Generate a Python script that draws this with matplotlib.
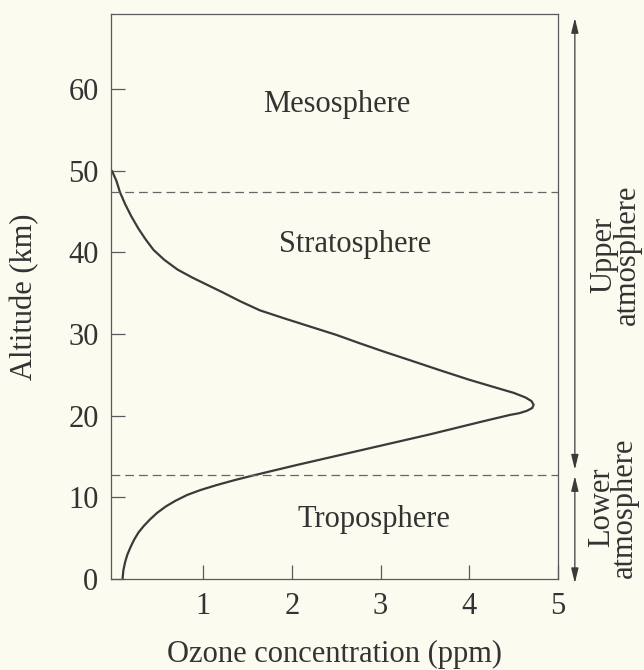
import matplotlib
matplotlib.use("Agg")
import matplotlib.pyplot as plt
from matplotlib.patches import ArrowStyle

# ---- data ----
ozone_ppm = [-0.03, 0.02, 0.06, 0.12, 0.19, 0.27, 0.35, 0.44, 0.56, 0.71, 0.88,
             1.05, 1.22, 1.42, 1.64, 1.92, 2.21, 2.50, 2.77, 3.05, 3.33, 3.66,
             4.00, 4.28, 4.50, 4.63, 4.70, 4.725, 4.71, 4.65, 4.56, 4.46, 4.15,
             3.85, 3.55, 3.25, 2.95, 2.65, 2.35, 2.05, 1.80, 1.57, 1.35, 1.15,
             0.97, 0.82, 0.69, 0.58, 0.48, 0.40, 0.33, 0.27, 0.22, 0.18, 0.145,
             0.12, 0.10, 0.09]
altitude_km = [50.0, 48.8, 47.4, 45.9, 44.4, 42.9, 41.6, 40.3, 39.1, 37.9, 36.9,
               36.0, 35.1, 34.0, 32.9, 31.9, 30.9, 29.9, 28.85, 27.8, 26.8, 25.6,
               24.4, 23.5, 22.8, 22.25, 21.8, 21.35, 20.95, 20.6, 20.3, 20.1, 19.3,
               18.5, 17.7, 16.95, 16.2, 15.45, 14.7, 13.95, 13.3, 12.7, 12.1, 11.5,
               10.9, 10.3, 9.6, 8.9, 8.1, 7.3, 6.5, 5.7, 4.8, 3.9, 3.0,
               2.1, 1.1, 0.0]
boundaries_km = [47.4, 12.7]
layer_names = ["Mesosphere", "Stratosphere", "Troposphere"]
layer_x = [2.50, 2.71, 2.92]
layer_y = [57.2, 40.0, 6.4]
x_ticks = [1, 2, 3, 4, 5]
y_ticks = [0, 10, 20, 30, 40, 50, 60]
x_label = "Ozone concentration (ppm)"
y_label = "Altitude (km)"
side_labels = ["Upper\natmosphere", "Lower\natmosphere"]
side_label_y = [39.7, 8.75]
upper_span = [13.4, 68.7]
lower_span = [-0.5, 12.6]

bg = "#fcfbef"
ink = "#333333"
grey = "#5a5a5a"

plt.rcParams["font.family"] = ["Liberation Serif", "DejaVu Serif"]
plt.rcParams["font.size"] = 22

fig = plt.figure(figsize=(6.44, 6.70), dpi=100, facecolor=bg)
ax = fig.add_axes([111 / 644, 1 - 579 / 670, 447 / 644, 565 / 670])
ax.set_facecolor(bg)

ax.plot(ozone_ppm, altitude_km, color="#3a3a3a", lw=1.6,
        solid_joinstyle="round", solid_capstyle="round", clip_on=False)

for b in boundaries_km:
    ax.axhline(b, color="#666666", lw=0.9, dashes=(7, 4))

for name, x, y in zip(layer_names, layer_x, layer_y):
    ax.text(x, y, name, ha="center", va="baseline", color=ink, fontsize=22)

ax.set_xlim(-0.04, 5.0)
ax.set_ylim(0, 69.2)
ax.set_xticks(x_ticks)
ax.set_yticks(y_ticks)
ax.tick_params(direction="in", length=10, width=0.9, color=grey,
               labelcolor=ink, labelsize=22, pad=9)
for s in ax.spines.values():
    s.set_color(grey)
    s.set_linewidth(0.9)

ax.set_xlabel(x_label, color=ink, fontsize=22, labelpad=14)
ax.set_ylabel(y_label, color=ink, fontsize=22)
ax.yaxis.set_label_coords(-0.16, 0.5)

arrow_x = 5.19
style = ArrowStyle("<|-|>", head_length=0.9, head_width=0.22)
for lo, hi in (upper_span, lower_span):
    ax.annotate("", xy=(arrow_x, lo), xytext=(arrow_x, hi),
                arrowprops=dict(arrowstyle=style, color="#3a3a3a", lw=0.9,
                                shrinkA=0, shrinkB=0, mutation_scale=10),
                annotation_clip=False)

side_x = [5.65, 5.62]
for lab, xx, yy in zip(side_labels, side_x, side_label_y):
    ax.text(xx, yy, lab, rotation=90, ha="center", va="center",
            multialignment="center", linespacing=0.75, color=ink,
            fontsize=22, clip_on=False)

fig.savefig("out.png", dpi=100, facecolor=bg)
